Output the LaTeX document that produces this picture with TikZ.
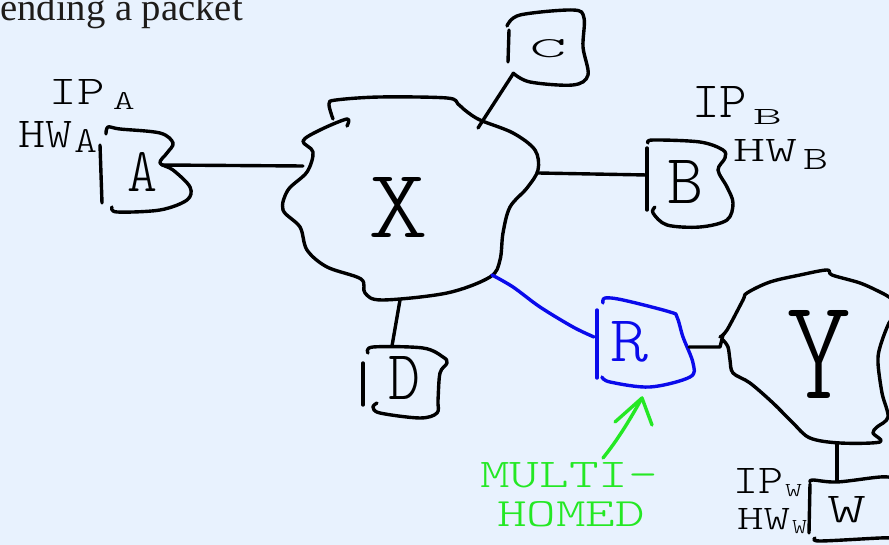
\documentclass[tikz,border=0pt]{standalone}
\usepackage{fontspec}
\usepackage{graphicx}
\setmainfont{Liberation Serif}
\newfontfamily\handfont{lmmonolt10-regular.otf}
\usetikzlibrary{arrows.meta}
\definecolor{bgc}{RGB}{232,242,254}
\definecolor{titlec}{RGB}{30,28,26}
\definecolor{bluepen}{RGB}{10,10,235}
\definecolor{greenpen}{RGB}{36,232,36}
\newlength\pxu
\setlength\pxu{0.03cm}
\newcommand\fitt[3]{\resizebox{#1\pxu}{#2\pxu}{#3}}
\tikzset{
  ink/.style={line width=2.9pt, line cap=round, line join=round, draw=black},
  blueink/.style={ink, draw=bluepen},
  greenink/.style={ink, draw=greenpen},
  lbl/.style={inner sep=0pt, outer sep=0pt, font=\handfont},
  port/.style={inner sep=0pt, outer sep=0pt},
}
\begin{document}
\begin{tikzpicture}[x=0.03cm,y=-0.03cm]
\fill[bgc] (0,0) rectangle (889,545);
\useasboundingbox (0,0) rectangle (889,545);
\begin{scope}
\clip (0,0) rectangle (889,545);

% title
\node[anchor=base west, inner sep=0pt, text=titlec, font=\fontsize{33}{34}\selectfont] (title) at (0,21) {ending a packet};

% cloud X
\draw[ink] plot[smooth, tension=0.55] coordinates {(333,119) (329,104) (336,100) (380,97) (447,98) (458,104) (466,111) (480,120) (513,133) (535,150) (538,170) (527,188) (510,207) (503,233) (500,260) (490,277) (447,293) (382,300) (365,293) (361,279) (327,267) (307,250) (300,227) (283,210) (288,190) (307,172) (313,152) (303,141) (320,130) (347,119) (347,126)};
\node[lbl] (X) at (398,208) {\fitt{60}{60}{X}};

% node C
\draw[ink] plot[smooth, tension=0.55] coordinates {(507,26) (520,15) (573,10) (584,18) (583,47) (588,75) (573,85) (530,82) (513,73)};
\draw[ink] (509,30) -- (508,62);
\node[lbl] (C) at (548,49) {\fitt{37}{18}{C}};
\coordinate (Xn) at (478,128);
\coordinate (Cs) at (513,74);
\draw[ink] (Xn) -- (Cs);

% node A
\draw[ink] (100,145) -- (102,203);
\draw[ink] plot[smooth, tension=0.55] coordinates {(106,134) (108,127) (120,129) (160,133) (173,143) (167,153) (160,163) (173,170) (190,187) (187,200) (160,210) (117,212) (112,207)};
\node[lbl] (A) at (142,172) {\fitt{30}{39}{A}};
\coordinate (Ae) at (162,165);
\coordinate (Xw) at (303,166);
\draw[ink] (Ae) -- (Xw);
\node[lbl, anchor=base west] (ipA) at (50,105) {\fitt{55}{25}{IP}\hspace{8\pxu}\raisebox{-5\pxu}{\fitt{22}{17}{A}}};
\node[lbl, anchor=base west] (hwA) at (18,148) {\fitt{54}{26}{HW}\hspace{2\pxu}\raisebox{-5\pxu}{\fitt{23}{23}{A}}};

% node B
\draw[ink] (647,148) -- (647,210);
\draw[ink] plot[smooth, tension=0.55] coordinates {(648,143) (653,140) (700,142) (723,150) (725,158) (718,170) (727,187) (733,203) (727,220) (700,227) (667,225) (653,213) (655,207)};
\node[lbl] (B) at (685,182) {\fitt{36}{43}{B}};
\coordinate (Xe) at (538,173);
\coordinate (Bw) at (647,175);
\draw[ink] (Xe) -- (Bw);
\node[lbl, anchor=base west] (ipB) at (692,118) {\fitt{55}{31}{IP}\hspace{6\pxu}\raisebox{-7\pxu}{\fitt{29}{15}{B}}};
\node[lbl, anchor=base west] (hwB) at (733,162) {\fitt{64}{22}{HW}\hspace{6\pxu}\raisebox{-8\pxu}{\fitt{25}{20}{B}}};

% node D
\draw[ink] (363,363) -- (363,405);
\draw[ink] plot[smooth, tension=0.55] coordinates {(368,353) (373,347) (423,348) (443,357) (447,363) (440,373) (438,400) (437,413) (420,418) (380,413) (373,407) (377,403)};
\node[lbl] (D) at (404,378) {\fitt{32}{43}{D}};
\coordinate (Xs) at (400,300);
\coordinate (Dn) at (392,346);
\draw[ink] (Xs) -- (Dn);

% node R (blue)
\draw[blueink] (597,310) -- (597,378);
\draw[blueink] plot[smooth, tension=0.55] coordinates {(603,303) (605,298) (623,300) (670,312) (677,317) (683,337) (693,363) (690,377) (650,387) (610,382) (602,377)};
\node[lbl, text=bluepen] (R) at (629,342) {\fitt{38}{40}{R}};
\coordinate (Xse) at (492,275);
\coordinate (Rw) at (594,337);
\draw[blueink] plot[smooth, tension=0.55] coordinates {(Xse) (513,287) (540,307) (573,327) (Rw)};

% cloud Y
\draw[ink] plot[smooth, tension=0.55] coordinates {(720,337) (727,330) (743,300) (747,293) (770,282) (800,275) (827,270) (832,275) (860,283) (880,292) (889,297) (900,305)};
\draw[ink] plot[smooth, tension=0.55] coordinates {(898,312) (889,323) (880,347) (878,363) (882,393) (888,417) (877,427) (873,433) (880,442) (840,443) (810,438) (793,423) (773,403) (750,383) (733,373) (730,360) (728,347) (723,340)};
\node[lbl] (Y) at (819,354) {\fitt{65}{88}{Y}};
\coordinate (Re) at (689,347);
\coordinate (Yw) at (720,347);
\coordinate (Ywt) at (723,335);
\draw[ink] (Re) -- (Yw) -- (Ywt);

% node W
\draw[ink] plot[smooth, tension=0.55] coordinates {(810,482) (813,480) (837,482) (880,477) (895,478)};
\draw[ink] (810,484) -- (809,533);
\draw[ink] plot[smooth, tension=0.55] coordinates {(815,538) (820,541) (880,538) (895,538)};
\node[lbl] (W) at (847,510) {\fitt{39}{26}{W}};
\coordinate (Ys) at (837,444);
\coordinate (Wn) at (837,481);
\draw[ink] (Ys) -- (Wn);
\node[lbl, anchor=base west] (ipW) at (733,494) {\fitt{50}{25}{IP}\hspace{2\pxu}\raisebox{-2\pxu}{\fitt{17}{12}{W}}};
\node[lbl, anchor=base west] (hwW) at (737,530) {\fitt{53}{21}{HW}\hspace{2\pxu}\raisebox{-4\pxu}{\fitt{15}{13}{W}}};

% multi-homed note
\node[lbl, text=greenpen] (multi) at (569,475) {\fitt{178}{25}{MULTI-}};
\node[lbl, text=greenpen] (homed) at (571,514) {\fitt{148}{25}{HOMED}};
\coordinate (Mt) at (603,458);
\coordinate (Rs) at (642,398);
\draw[greenink] (Mt) .. controls (620,437) and (633,414) .. (Rs);
\draw[greenink] (615,422) -- (Rs) -- (652,425);
\end{scope}
\end{tikzpicture}
\end{document}
